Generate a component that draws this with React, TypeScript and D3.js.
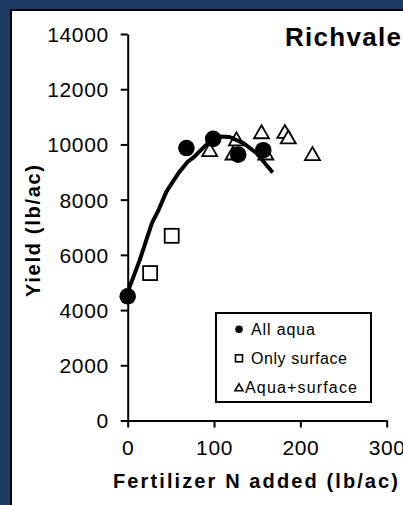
import React, { useRef, useEffect } from 'react'
import * as d3 from 'd3'

// Fertilizer N (lb/ac) and yield (lb/ac) per treatment
const allAquaN = [0, 68, 99, 128, 157]
const allAquaYield = [4500, 9870, 10200, 9630, 9790]
const surfaceN = [26, 51]
const surfaceYield = [5340, 6690]
const aquaSurfaceN = [95, 126, 122, 155, 160, 182, 186, 214]
const aquaSurfaceYield = [9810, 10200, 9690, 10460, 9690, 10470, 10270, 9670]
// fitted response line
const fitN = [0, 14, 28, 36, 45, 59, 70, 76, 95, 107, 118, 134, 149, 168]
const fitYield = [4650, 5820, 7150, 7640, 8300, 8970, 9390, 9520, 10110, 10290, 10270, 10050, 9690, 8980]

const xTicks = [0, 100, 200, 300]
const yTicks = [0, 2000, 4000, 6000, 8000, 10000, 12000, 14000]
const legendLabels = ['All aqua', 'Only surface', 'Aqua+surface']

const W = 403
const H = 505
const NAVY = '#1c3a62'
const FONT = '"Liberation Sans", Arial, sans-serif'

const x = d3.scaleLinear().domain([0, 300]).range([127.7, 386.7])
const y = d3.scaleLinear().domain([0, 14000]).range([420.5, 34])

const triPath = (w: number, h: number) => `M0,${-h / 2}L${w / 2},${h / 2}L${-w / 2},${h / 2}Z`

const App: React.FC = () => {
  const xAxisRef = useRef<SVGGElement>(null)
  const yAxisRef = useRef<SVGGElement>(null)

  useEffect(() => {
    if (!xAxisRef.current || !yAxisRef.current) return

    const xa = d3.select(xAxisRef.current)
    xa.selectAll('*').remove()
    xa.attr('transform', `translate(0, ${y(0)})`)
      .call(d3.axisBottom(x).tickValues(xTicks).tickSize(7).tickSizeOuter(0).tickPadding(27))
    xa.selectAll('text')
      .attr('dy', 0)
      .style('font-family', FONT)
      .style('font-size', '21px')
      .style('letter-spacing', '0.6px')
      .style('fill', '#000')

    const ya = d3.select(yAxisRef.current)
    ya.selectAll('*').remove()
    ya.attr('transform', `translate(${x(0)}, 0)`)
      .call(d3.axisLeft(y).tickValues(yTicks).tickSize(7).tickSizeOuter(0).tickPadding(12).tickFormat(d => String(d)))
    ya.selectAll('text')
      .attr('dy', '0.35em')
      .style('font-family', FONT)
      .style('font-size', '21px')
      .style('letter-spacing', '0.6px')
      .style('fill', '#000')

    d3.selectAll([xAxisRef.current, yAxisRef.current])
      .selectAll('.domain, .tick line')
      .attr('stroke', '#000')
      .attr('stroke-width', 2)
  }, [])

  const line = d3
    .line<number>()
    .x((_d, i) => x(fitN[i]))
    .y(d => y(d))

  const legendX = 216
  const legendY = 313
  const markerX = 239
  const textX = [251, 251, 245]
  const textLen = [64, 96, 112]

  return (
    <svg
      width={W}
      height={H}
      style={{ position: 'fixed', left: 0, top: 0, display: 'block' }}
      fontFamily={FONT}
    >
      <rect x={0} y={0} width={W} height={H} fill={NAVY} />
      <rect x={12} y={11} width={W - 12} height={H - 11} fill="#fff" />
      <line x1={11} y1={10} x2={11} y2={H} stroke="#000" strokeWidth={2} />
      <line x1={10} y1={10} x2={W} y2={10} stroke="#000" strokeWidth={2} />

      <g ref={yAxisRef} />
      <g ref={xAxisRef} />

      {/* Aqua+surface */}
      {aquaSurfaceN.map((n, i) => (
        <path
          key={`t${i}`}
          d={triPath(15, 13)}
          transform={`translate(${x(n)}, ${y(aquaSurfaceYield[i])})`}
          fill="#fff"
          stroke="#000"
          strokeWidth={1.8}
        />
      ))}
      {/* Only surface */}
      {surfaceN.map((n, i) => (
        <rect
          key={`s${i}`}
          x={x(n) - 7}
          y={y(surfaceYield[i]) - 7}
          width={14}
          height={14}
          fill="#fff"
          stroke="#000"
          strokeWidth={1.8}
        />
      ))}
      {/* All aqua */}
      {allAquaN.map((n, i) => (
        <circle key={`c${i}`} cx={x(n)} cy={y(allAquaYield[i])} r={8.3} fill="#000" />
      ))}

      <path d={line(fitYield) || ''} fill="none" stroke="#000" strokeWidth={4} strokeLinejoin="round" />

      <text x={285} y={46} fontSize={26} fontWeight="bold" textLength={116} lengthAdjust="spacing">
        Richvale
      </text>

      {/* legend */}
      <rect x={legendX} y={legendY} width={155} height={89} fill="#fff" stroke="#000" strokeWidth={2} />
      {legendLabels.map((label, i) => {
        const cy = legendY + 16.3 + i * 29
        return (
          <g key={label}>
            {i === 0 && <circle cx={markerX} cy={cy} r={3.8} fill="#000" />}
            {i === 1 && (
              <rect x={markerX - 3.5} y={cy - 3.5} width={7} height={7} fill="#fff" stroke="#000" strokeWidth={1.6} />
            )}
            {i === 2 && (
              <path d={triPath(8, 7)} transform={`translate(${markerX}, ${cy})`} fill="#fff" stroke="#000" strokeWidth={1.6} />
            )}
            <text x={textX[i]} y={cy + 5.8} fontSize={16} textLength={textLen[i]} lengthAdjust="spacing">
              {label}
            </text>
          </g>
        )
      })}

      <text x={113} y={488} fontSize={20} fontWeight="bold" textLength={285} lengthAdjust="spacing">
        Fertilizer N added (lb/ac)
      </text>
      <text
        transform="translate(40.3, 231) rotate(-90)"
        textAnchor="middle"
        fontSize={20}
        fontWeight="bold"
        textLength={132}
        lengthAdjust="spacing"
      >
        Yield (lb/ac)
      </text>
    </svg>
  )
}

export default App
